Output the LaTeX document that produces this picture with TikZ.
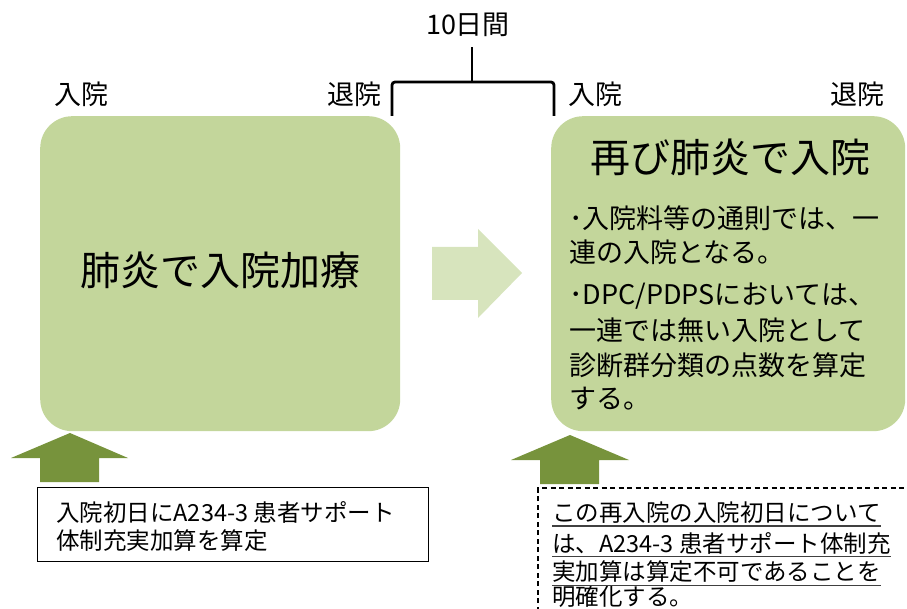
\documentclass[tikz,border=0pt]{standalone}
\usepackage{fontspec}
\setmainfont{Noto Sans CJK JP}
\definecolor{boxgreen}{HTML}{C3D69B}
\definecolor{palegreen}{HTML}{D7E4BD}
\definecolor{darkgreen}{HTML}{77933C}
\begin{document}
\begin{tikzpicture}[x=1pt,y=-1pt,
  greenbox/.style={fill=boxgreen, draw=none, rounded corners=32pt, inner sep=0pt, anchor=north west},
  toplbl/.style={inner sep=0pt, font=\fontsize{27}{32}\selectfont},
  titletxt/.style={inner sep=0pt, font=\fontsize{40}{48}\selectfont},
  bullettxt/.style={inner sep=0pt, anchor=west, font=\fontsize{27}{32}\selectfont},
  notetxt/.style={inner sep=0pt, anchor=west, font=\fontsize{23.5}{28}\selectfont},
  ultxt/.style={inner sep=0pt, anchor=west, font=\fontsize{23.5}{28}\selectfont},
  ulline/.style={draw=black!75, line width=1.1pt},
  bracket/.style={draw=black, line width=2.8pt, rounded corners=3pt},
  uparrow/.style={fill=darkgreen, draw=none},
  rightarrow/.style={fill=palegreen, draw=none}
]
\useasboundingbox (0,0) rectangle (907,609);

% green boxes
\node[greenbox, minimum width=360pt, minimum height=315pt] (L) at (40,116) {};
\node[greenbox, minimum width=354pt, minimum height=315pt] (R) at (551,116) {};

% top labels
\node[toplbl] (in1) at (81,94) {入院};
\node[toplbl] (out1) at (354,94) {退院};
\node[toplbl] (in2) at (595,94) {入院};
\node[toplbl] (out2) at (857,94) {退院};
\node[toplbl] (days) at (468,25) {10日間};

% bracket
\coordinate (bl) at (392,116);
\coordinate (br) at (554,116);
\coordinate (bm) at (472,47);
\draw[bracket] (bl) -- (392,82) -- (554,82) -- (br);
\draw[bracket] (472,82) -- (bm);

% left box text
\node[titletxt] (ltitle) at (220,270) {肺炎で入院加療};

% right box text
\node[titletxt] (rtitle) at (730,157) {再び肺炎で入院};
\node[bullettxt] (b1) at (569,218) {･入院料等の通則では、一};
\node[bullettxt] (b2) at (569,252) {連の入院となる。};
\node[bullettxt] (b3) at (569,296) {･DPC/PDPSにおいては、};
\node[bullettxt] (b4) at (569,330) {一連では無い入院として};
\node[bullettxt] (b5) at (569,365) {診断群分類の点数を算定};
\node[bullettxt] (b6) at (569,399) {する。};

% middle arrow
\fill[rightarrow] (432,247) -- (478,247) -- (478,229) -- (522,273) -- (478,318) -- (478,300) -- (432,300) -- cycle;

% up arrows
\fill[uparrow] (40,482) -- (40,458) -- (11,458) -- (70,433) -- (128,458) -- (99,458) -- (99,482) -- cycle;
\fill[uparrow] (540,484) -- (540,460) -- (511,460) -- (570,435) -- (629,460) -- (599,460) -- (599,484) -- cycle;

% left note box
\node[draw=black, line width=1.1pt, inner sep=0pt, anchor=north west, minimum width=391pt, minimum height=74pt] (LN) at (37,487) {};
\node[notetxt] (n1) at (56,512) {入院初日にA234-3 患者サポート};
\node[notetxt] (n2) at (56,541) {体制充実加算を算定};

% right dashed note box
\coordinate (dA) at (538,620);
\coordinate (dB) at (538,488);
\coordinate (dC) at (915,488);
\draw[black, line width=1.1pt, dash pattern=on 5pt off 3.5pt] (dA) -- (dB) -- (dC);
\node[ultxt] (u1) at (552,513) {この再入院の入院初日について};
\node[ultxt] (u2) at (552,543) {は、A234-3 患者サポート体制充};
\node[ultxt] (u3) at (552,572) {実加算は算定不可であることを};
\node[ultxt] (u4) at (552,597) {明確化する。};
\foreach \n in {u1,u2,u3}{
  \draw[ulline] ([yshift=-2pt]\n.south west) -- ([yshift=-2pt]\n.south east);
}
\end{tikzpicture}
\end{document}
